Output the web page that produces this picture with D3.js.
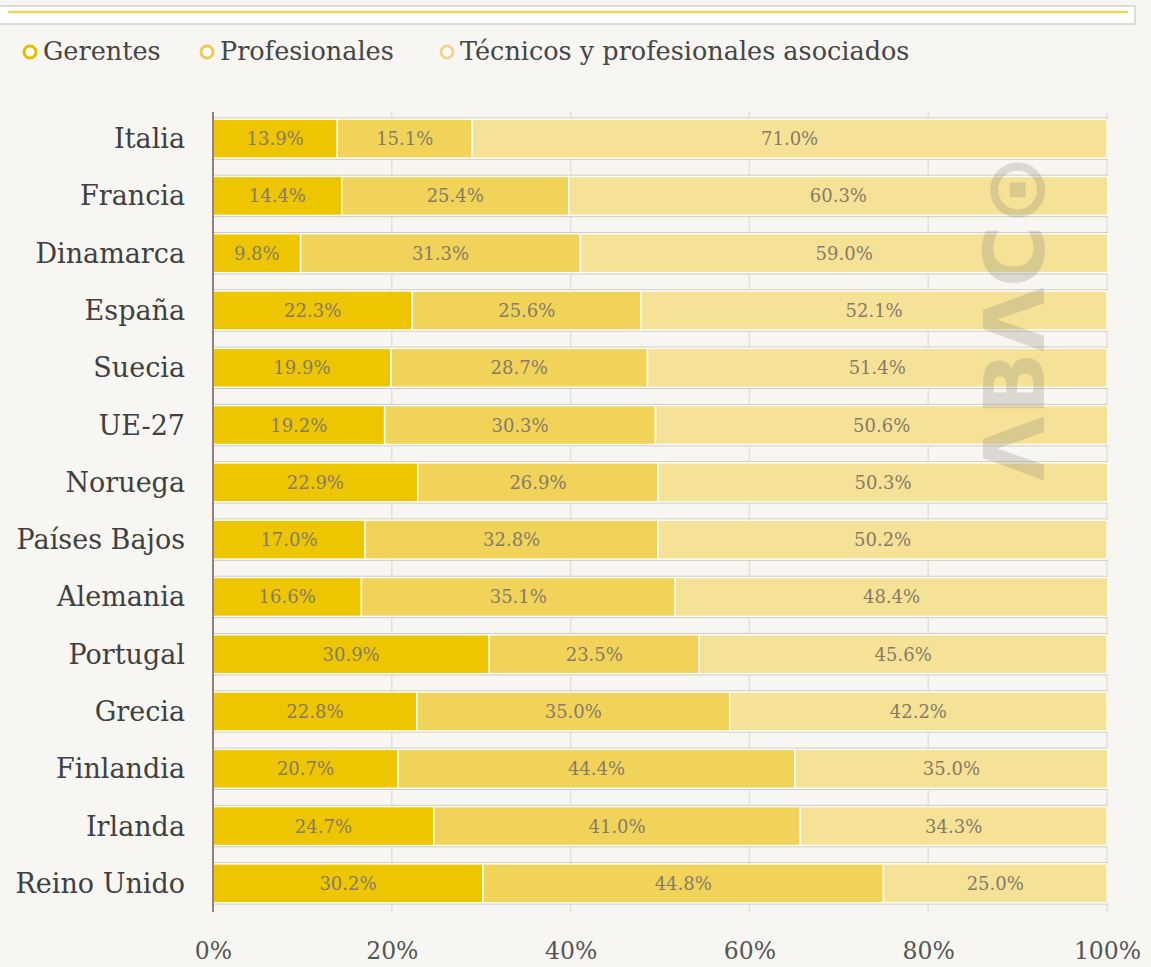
<!DOCTYPE html>
<html><head><meta charset="utf-8">
<script src="https://cdn.jsdelivr.net/npm/d3@7"></script>
<style>
html,body{margin:0;padding:0;background:#f7f6f2;}
svg{display:block;}
</style></head>
<body>
<svg id="chart" width="1151" height="967"></svg>
<script>
const countries = ["Italia","Francia","Dinamarca","España","Suecia","UE-27","Noruega","Países Bajos","Alemania","Portugal","Grecia","Finlandia","Irlanda","Reino Unido"];
const seriesNames = ["Gerentes","Profesionales","Técnicos y profesionales asociados"];
const gerentes = [13.9,14.4,9.8,22.3,19.9,19.2,22.9,17.0,16.6,30.9,22.8,20.7,24.7,30.2];
const profesionales = [15.1,25.4,31.3,25.6,28.7,30.3,26.9,32.8,35.1,23.5,35.0,44.4,41.0,44.8];
const tecnicos = [71.0,60.3,59.0,52.1,51.4,50.6,50.3,50.2,48.4,45.6,42.2,35.0,34.3,25.0];
const tickValues = [0,20,40,60,80,100];
const colors = ["#eec600","#f2d35a","#f5e297"];
const legendStroke = ["#e4bd00","#ebcb55","#ead98f"];

const svg = d3.select("#chart");
const serif = "'DejaVu Serif','Liberation Serif',serif";

// top bar remnant
svg.append("rect").attr("x",-2).attr("y",6).attr("width",1137).attr("height",18)
  .attr("fill","#ffffff").attr("stroke","#d4d2cc").attr("stroke-width",1.5);
svg.append("line").attr("x1",8).attr("x2",1128).attr("y1",12).attr("y2",12)
  .attr("stroke","#f0d660").attr("stroke-width",2.5);

// legend
const legendX = [30,207,447];
const lg = svg.append("g");
seriesNames.forEach((n,i)=>{
  const g = lg.append("g").attr("transform",`translate(${legendX[i]},52)`);
  g.append("circle").attr("r",6).attr("fill","#fbfaf6").attr("stroke",legendStroke[i]).attr("stroke-width",3);
  g.append("text").attr("x",13).attr("y",8).attr("font-family",serif).attr("font-size",25.5)
    .attr("fill","#454545").text(n);
});

const data = countries.map((c,i)=>({country:c, Gerentes:gerentes[i], Profesionales:profesionales[i], "Técnicos y profesionales asociados":tecnicos[i]}));
const stack = d3.stack().keys(seriesNames)(data);

const x = d3.scaleLinear().domain([0,100]).range([213,1107]);
const y = d3.scaleBand().domain(countries).range([110,912]).paddingInner(0.32).paddingOuter(0.16);

// gridlines
svg.append("g").selectAll("line").data(tickValues).join("line")
  .attr("x1",d=>x(d)).attr("x2",d=>x(d)).attr("y1",112).attr("y2",912)
  .attr("stroke","#e2e0db").attr("stroke-width",1.5);

// row outlines
svg.append("g").selectAll("rect").data(countries).join("rect")
  .attr("x",x(0)).attr("y",d=>y(d)-1).attr("width",x(100)-x(0)).attr("height",y.bandwidth()+2)
  .attr("fill","none").attr("stroke","#cfccc6").attr("stroke-width",1.5);

// bars
const layers = svg.append("g").selectAll("g").data(stack).join("g").attr("fill",(d,i)=>colors[i]);
layers.selectAll("rect").data(d=>d).join("rect")
  .attr("x",d=>x(d[0])).attr("y",d=>y(d.data.country))
  .attr("width",d=>x(d[1])-x(d[0])).attr("height",y.bandwidth())
  .attr("stroke","#fffdf5").attr("stroke-width",1.5);

// value labels
const lbl = svg.append("g");
stack.forEach(layer=>{
  layer.forEach(d=>{
    lbl.append("text").attr("x",(x(d[0])+x(d[1]))/2).attr("y",y(d.data.country)+y.bandwidth()/2+6.5)
      .attr("text-anchor","middle").attr("font-family",serif).attr("font-size",18)
      .attr("fill","#857b66").text((d[1]-d[0]).toFixed(1)+"%");
  });
});

// watermark on top
svg.append("text").attr("transform","translate(1044,318) rotate(-90)")
  .attr("text-anchor","middle").attr("font-family","'DejaVu Sans',sans-serif")
  .attr("font-size",84).attr("font-weight","bold").attr("letter-spacing",0)
  .attr("fill","#8c8878").attr("fill-opacity",0.27).text("ΛBΛC⊙");

// y axis
const yAxis = svg.append("g").attr("transform",`translate(${x(0)},0)`)
  .call(d3.axisLeft(y).tickSize(0).tickPadding(28));
yAxis.select(".domain").remove();
yAxis.selectAll("text").attr("font-family",serif).attr("font-size",27).attr("fill","#404040").attr("dy","0.35em");
svg.append("line").attr("x1",x(0)).attr("x2",x(0)).attr("y1",112).attr("y2",912)
  .attr("stroke","#7a5c5c").attr("stroke-width",1.5);

// x axis
const xAxis = svg.append("g").attr("transform","translate(0,912)")
  .call(d3.axisBottom(x).tickValues(tickValues).tickFormat(d=>d+"%").tickSize(0).tickPadding(30));
xAxis.select(".domain").remove();
xAxis.selectAll("text").attr("font-family",serif).attr("font-size",23.5).attr("fill","#555").attr("dy","0.71em");
</script>
</body></html>
